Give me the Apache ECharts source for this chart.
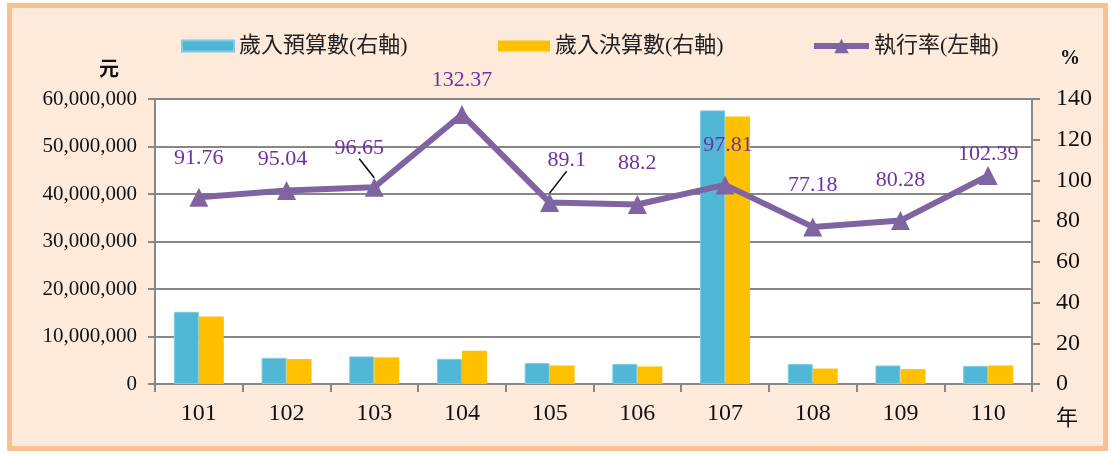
<!DOCTYPE html>
<html>
<head>
<meta charset="utf-8">
<script src="https://cdn.jsdelivr.net/npm/echarts@6/dist/echarts.min.js"></script>
<style>
html,body{margin:0;padding:0;width:1113px;height:454px;background:#ffffff;overflow:hidden;}
#frame{position:absolute;left:7px;top:3px;width:1091px;height:438px;border:5px solid #FAC090;background:#FDEADA;}
#chart{position:absolute;left:0;top:0;width:1113px;height:454px;}
</style>
</head>
<body>
<div id="frame"></div>
<div id="chart"></div>
<script>
// ---- data ----
const categories = ['101','102','103','104','105','106','107','108','109','110'];
const budgetValues = [15200000, 5500000, 5800000, 5300000, 4400000, 4200000, 57600000, 4200000, 3900000, 3800000];
const actualValues = [14200000, 5250000, 5600000, 7000000, 3900000, 3700000, 56300000, 3250000, 3130000, 3900000];
const rateValues = [91.76, 95.04, 96.65, 132.37, 89.1, 88.2, 97.81, 77.18, 80.28, 102.39];
const leftTicks = [0, 10000000, 20000000, 30000000, 40000000, 50000000, 60000000];
const rightTicks = [0, 20, 40, 60, 80, 100, 120, 140];
const seriesNames = ['歲入預算數(右軸)', '歲入決算數(右軸)', '執行率(左軸)'];
// label nudges (style, not data)
const labelNudge = [[0,-13],[-4,-6],[-15,-14],[0,-9],[17,-17],[0,-16],[3,-14],[0,-16],[0,-15],[0,4]];
const leaderIdx = [2, 4];

const serif = '"Liberation Serif", "Noto Sans CJK TC", serif';
const chart = echarts.init(document.getElementById('chart'), null, {renderer:'canvas'});

function fmt(v){ return v.toLocaleString('en-US'); }

const legendText = {fontFamily:serif, fontSize:22, color:'#222'};
const option = {
  backgroundColor: 'transparent',
  animation: false,
  grid: {left:155, right:81, top:99, bottom:70, show:true, backgroundColor:'#ffffff', borderWidth:0},
  legend: [
    {data:[{name:seriesNames[0], icon:'rect'}], left:176, top:30, itemWidth:52, itemHeight:11, textStyle:legendText},
    {data:[{name:seriesNames[1], icon:'rect'}], left:493, top:30, itemWidth:52, itemHeight:11, textStyle:legendText},
    {data:[seriesNames[2]], left:806, top:30, itemWidth:55, itemHeight:18, textStyle:legendText,
     lineStyle:{width:6}}
  ],
  xAxis: {
    type:'category', data:categories,
    axisLine:{show:true, lineStyle:{color:'#878787', width:2}},
    axisTick:{show:true, alignWithLabel:false, length:8, lineStyle:{color:'#878787', width:2}},
    axisLabel:{fontFamily:serif, fontSize:24, color:'#111', margin:18},
    name:'年', nameLocation:'end', nameGap:24,
    nameTextStyle:{fontFamily:serif, fontSize:22, color:'#111', verticalAlign:'top', padding:[24,0,0,0]}
  },
  yAxis: [
    {
      type:'value', min:0, max:60000000, interval:10000000,
      name:'元', nameLocation:'end', nameGap:18,
      nameTextStyle:{fontFamily:serif, fontSize:20, fontWeight:'bold', color:'#111', align:'right', padding:[0,36,0,0]},
      axisLine:{show:true, lineStyle:{color:'#878787', width:2}},
      axisTick:{show:true, length:7, lineStyle:{color:'#878787', width:2}},
      splitLine:{show:true, lineStyle:{color:'#878787', width:2}},
      axisLabel:{fontFamily:serif, fontSize:21, color:'#111', margin:18,
        formatter:function(v){ return leftTicks.indexOf(v) >= 0 ? fmt(v) : ''; }}
    },
    {
      type:'value', min:0, max:140, interval:20,
      name:'%', nameLocation:'end', nameGap:30,
      nameTextStyle:{fontFamily:serif, fontSize:20, fontWeight:'bold', color:'#111', align:'left', padding:[0,0,0,28]},
      axisLine:{show:true, lineStyle:{color:'#878787', width:2}},
      axisTick:{show:true, length:8, lineStyle:{color:'#878787', width:2}},
      splitLine:{show:false},
      axisLabel:{fontFamily:serif, fontSize:24, color:'#111', margin:24,
        formatter:function(v){ return rightTicks.indexOf(v) >= 0 ? String(v) : ''; }}
    }
  ],
  series: [
    {name:seriesNames[0], type:'bar', yAxisIndex:0, data:budgetValues, barWidth:25, barGap:'0%',
     itemStyle:{color:'#50B7D6', borderColor:'#7FCBE3', borderWidth:1}},
    {name:seriesNames[1], type:'bar', yAxisIndex:0, data:actualValues, barWidth:25,
     itemStyle:{color:'#FFC000'}},
    {name:seriesNames[2], type:'line', yAxisIndex:1,
     data: rateValues.map(function(v,i){
       return leaderIdx.indexOf(i) >= 0 ? {value:v, labelLine:{show:true}} : v;
     }),
     symbol:'triangle', symbolSize:19, z:5,
     lineStyle:{color:'#8064A2', width:6},
     itemStyle:{color:'#8064A2'},
     label:{show:true, position:'top', distance:5, fontFamily:serif, fontSize:22, color:'#7030A0'},
     labelLine:{show:false, lineStyle:{color:'#000', width:1.5}},
     labelLayout:function(p){ const n = labelNudge[p.dataIndex]; return {dx:n[0], dy:n[1]}; }
    }
  ]
};
chart.setOption(option);
</script>
</body>
</html>
